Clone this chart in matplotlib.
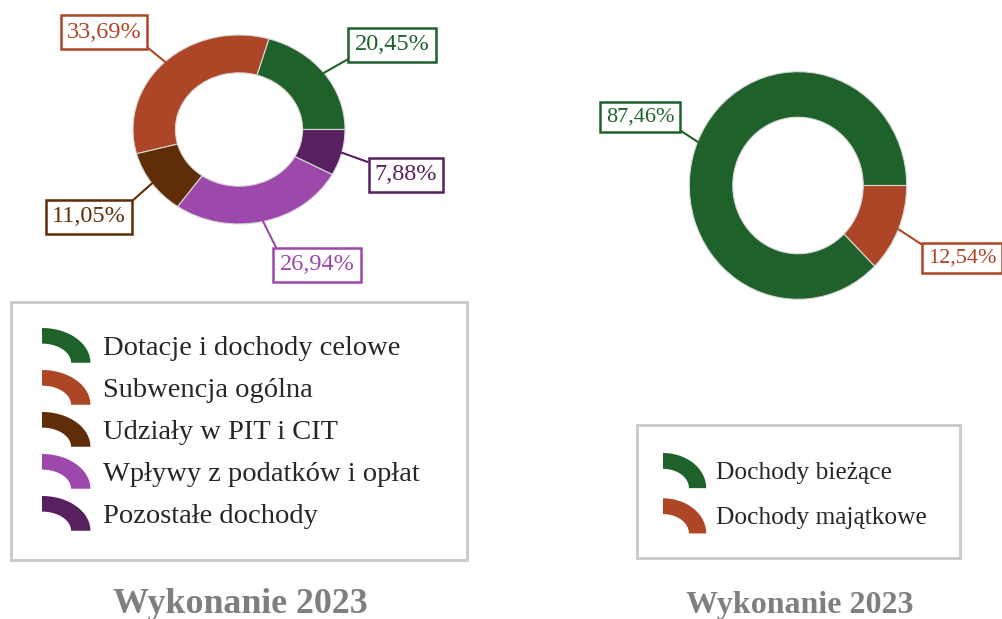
import numpy as np
import matplotlib.pyplot as plt
from matplotlib.legend_handler import HandlerBase
from matplotlib.patches import Polygon, Rectangle, Patch

plt.rcParams['font.family'] = ['Liberation Serif', 'DejaVu Serif']

# data
left_labels = ["Dotacje i dochody celowe", "Subwencja ogólna", "Udziały w PIT i CIT",
               "Wpływy z podatków i opłat", "Pozostałe dochody"]
left_values = [20.45, 33.69, 11.05, 26.94, 7.88]
left_colors = ["#1f612a", "#ad4527", "#5f2d07", "#9d49ab", "#56215e"]

right_labels = ["Dochody bieżące", "Dochody majątkowe"]
right_values = [87.46, 12.54]
right_colors = ["#1f612a", "#ad4527"]

chart_title = "Wykonanie 2023"

W, H = 1002, 619
fig = plt.figure(figsize=(W / 100, H / 100), dpi=100)


def fmt(v):
    return f"{v:.2f}".replace(".", ",") + "%"


# legend marker: a quarter of a ring, like a slice of the donut
class ArcHandler(HandlerBase):
    def create_artists(self, legend, orig_handle, xdescent, ydescent, width, height, fontsize, trans):
        t = np.linspace(0, np.pi / 2, 40)
        x0, y0 = -xdescent, -ydescent
        outer = np.column_stack([x0 + width * np.cos(t), y0 + height * np.sin(t)])
        inner = np.column_stack([x0 + 0.6 * width * np.cos(t), y0 + 0.55 * height * np.sin(t)])[::-1]
        p = Polygon(np.vstack([outer, inner]), closed=True, facecolor=orig_handle.get_facecolor(),
                    edgecolor='none', transform=trans)
        return [p]


def donut(values, colors, center, radii, label_pos, relpos, fs):
    # full-figure axes, limits chosen so the ring sits at center (pixels) with radii rx, ry
    cx, cy = center
    rx, ry = radii
    ax = fig.add_axes([0, 0, 1, 1])
    wedges, _ = ax.pie(values, colors=colors, startangle=0, counterclock=True, radius=1,
                       wedgeprops=dict(width=0.4, edgecolor='#d8d8d8', linewidth=0.8))
    ax.set_aspect('auto')
    ax.set_xlim(-cx / rx, (W - cx) / rx)
    ax.set_ylim(-(H - cy) / ry, cy / ry)
    ax.axis('off')
    for w, v, c, pos, rp in zip(wedges, values, colors, label_pos, relpos):
        ang = np.deg2rad((w.theta1 + w.theta2) / 2)
        ax.annotate(fmt(v), xy=(np.cos(ang), np.sin(ang)), xytext=(pos[0], H - pos[1]),
                    textcoords='figure pixels', ha='center', va='center', fontsize=fs, color=c,
                    bbox=dict(boxstyle='square,pad=0.25', fc='white', ec=c, lw=1.8),
                    arrowprops=dict(arrowstyle='-', color=c, lw=1.5, relpos=rp,
                                    shrinkA=0, shrinkB=0))
    return ax


# left chart (label box centers in pixels from top-left)
donut(left_values, left_colors, (239, 129.5), (106, 94.5),
      [(392, 45), (104, 32), (89, 217), (317, 265), (406, 175)],
      [(0, 0), (1, 0), (1, 1), (0, 1), (0, 1)], 17.5)

# right chart
donut(right_values, right_colors, (798, 185.5), (108.7, 113.8),
      [(640, 117), (962, 258)],
      [(1, 0), (0, 1)], 16)

# legends
fig.legend(handles=[Patch(facecolor=c) for c in left_colors], labels=left_labels,
           handler_map={Patch: ArcHandler()}, loc='upper left',
           bbox_to_anchor=(42 / W, 1 - 328 / H), frameon=False, borderpad=0, borderaxespad=0,
           fontsize=20.5, handlelength=1.7, handleheight=1.5, handletextpad=0.45,
           labelspacing=0.255, labelcolor='#262626')
fig.legend(handles=[Patch(facecolor=c) for c in right_colors], labels=right_labels,
           handler_map={Patch: ArcHandler()}, loc='upper left',
           bbox_to_anchor=(663 / W, 1 - 453 / H), frameon=False, borderpad=0, borderaxespad=0,
           fontsize=18.3, handlelength=1.7, handleheight=1.75, handletextpad=0.4,
           labelspacing=0.4, labelcolor='#262626')

# legend frames
fig.add_artist(Rectangle((11 / W, 1 - 560 / H), 456 / W, 258 / H, transform=fig.transFigure,
                         fill=False, ec='#c8c8c8', lw=2))
fig.add_artist(Rectangle((637 / W, 1 - 558 / H), 323 / W, 133 / H, transform=fig.transFigure,
                         fill=False, ec='#c8c8c8', lw=2))

# titles
fig.text(240 / W, 1 - 613 / H, chart_title, ha='center', va='baseline', fontsize=25.8,
         fontweight='bold', color='#7f7f7f')
fig.text(800 / W, 1 - 613 / H, chart_title, ha='center', va='baseline', fontsize=23,
         fontweight='bold', color='#7f7f7f')

fig.savefig('out.png', dpi=100)
